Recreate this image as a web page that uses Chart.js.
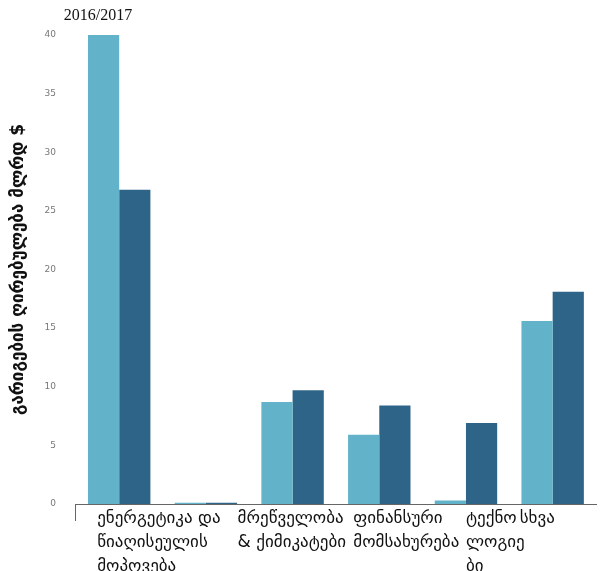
<!DOCTYPE html>
<html>
<head>
<meta charset="utf-8">
<script src="https://cdn.jsdelivr.net/npm/chart.js"></script>
<style>
  body { margin: 0; background: #fff; }
  #wrap { width: 608px; height: 571px; }
</style>
</head>
<body>
<div id="wrap"><canvas id="graficoSectores"></canvas></div>
<script>
const categorias = [
    ['ენერგეტიკა და', 'წიაღისეულის', 'მოპოვება'],
    [''],
    ['მრეწველობა', '& ქიმიკატები'],
    ['ფინანსური', 'მომსახურება'],
    ['ტექნო', 'ლოგიე', 'ბი'],
    ['სხვა']
];
const valores2016 = [40, 0.1, 8.7, 5.9, 0.3, 15.6];
const valores2017 = [26.8, 0.1, 9.7, 8.4, 6.9, 18.1];
const titulo = '2016/2017';
const tituloEjeY = 'გარიგების ღირებულება მლრდ $';

// the category labels in the original sit left-aligned and drift off their bars
const corrimiento = [-22, 0, -55, -26, 0, -33];

const tituloPlugin = {
    id: 'tituloIzq',
    afterDraw(chart) {
        const c = chart.ctx;
        c.save();
        c.font = '16px "Liberation Serif"';
        c.fillStyle = '#111';
        c.textBaseline = 'middle';
        c.fillText(titulo, chart.chartArea.left - 12, 16);
        c.restore();
    }
};

const etiquetasPlugin = {
    id: 'etiquetasX',
    afterDraw(chart) {
        const c = chart.ctx;
        const xs = chart.scales.x;
        c.save();
        c.font = '17px "DejaVu Sans"';
        c.fillStyle = '#111';
        c.textAlign = 'left';
        c.textBaseline = 'middle';
        chart.data.labels.forEach((lineas, i) => {
            const x = xs.getPixelForTick(i) + corrimiento[i];
            lineas.forEach((t, j) => {
                c.fillText(t, x, chart.chartArea.bottom + 15 + j * 24);
            });
        });
        c.restore();
    }
};

const ctx = document.getElementById('graficoSectores');

new Chart(ctx, {
    type: 'bar',
    data: {
        labels: categorias,
        datasets: [{
            label: '2016',
            data: valores2016,
            backgroundColor: '#62b3c9'
        }, {
            label: '2017',
            data: valores2017,
            backgroundColor: '#2f6489'
        }]
    },
    options: {
        responsive: true,
        maintainAspectRatio: false,
        animation: false,
        categoryPercentage: 0.72,
        barPercentage: 1,
        layout: {
            padding: { top: 35, right: 12, left: 4, bottom: 50 }
        },
        plugins: {
            legend: { display: false },
            title: { display: false },
            tooltip: { enabled: false }
        },
        scales: {
            x: {
                border: { display: true, color: '#666', width: 1 },
                grid: {
                    display: true,
                    drawOnChartArea: false,
                    tickLength: 17,
                    color: (c) => c.index === 0 ? '#666' : 'rgba(0,0,0,0)'
                },
                ticks: { display: false }
            },
            y: {
                min: 0,
                max: 40,
                border: { display: false },
                grid: { display: false },
                ticks: {
                    stepSize: 5,
                    color: '#777',
                    padding: 12,
                    font: { family: '"DejaVu Sans"', size: 9 }
                },
                title: {
                    display: true,
                    text: tituloEjeY,
                    color: '#111',
                    font: { family: '"DejaVu Sans"', size: 17, weight: 'bold' }
                }
            }
        }
    },
    plugins: [tituloPlugin, etiquetasPlugin]
});
</script>
</body>
</html>
